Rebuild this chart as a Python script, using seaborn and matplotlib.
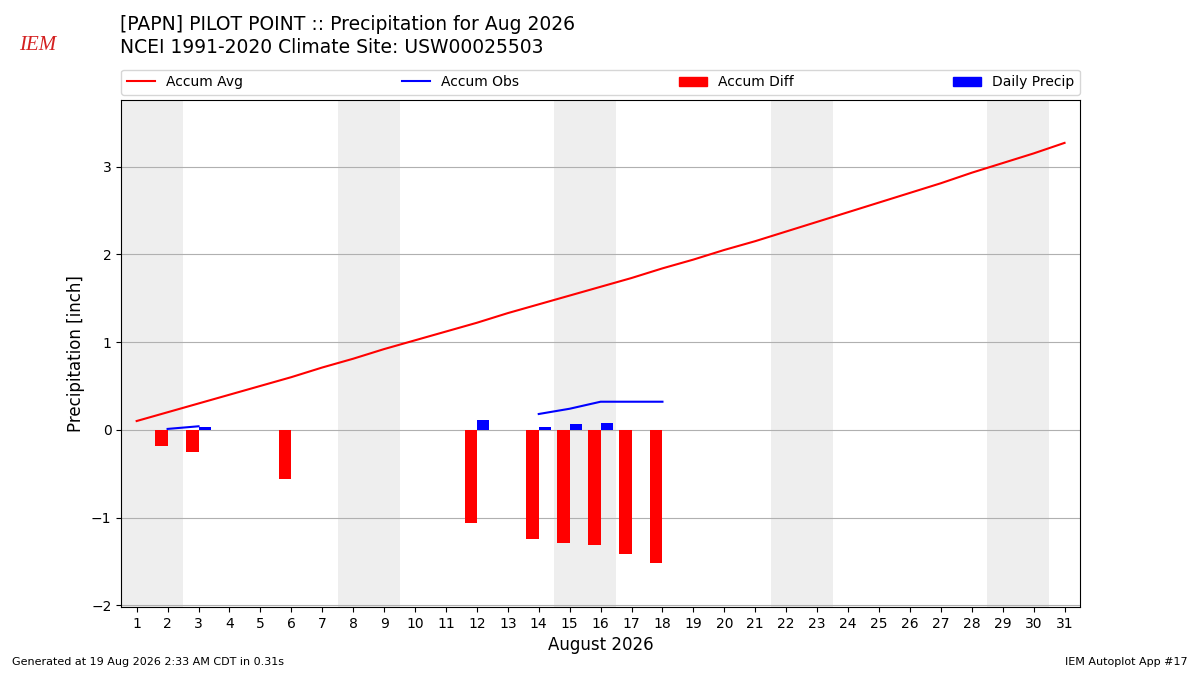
import numpy as np
import pandas as pd
import seaborn as sns
import matplotlib.pyplot as plt
from matplotlib.patches import Patch
from matplotlib.lines import Line2D

days = list(range(1, 32))

# climatology accumulated average precipitation [inch]
accum_avg = [0.10, 0.20, 0.30, 0.40, 0.50, 0.60, 0.71, 0.81, 0.92, 1.02,
             1.12, 1.22, 1.33, 1.43, 1.53, 1.63, 1.73, 1.84, 1.94, 2.05,
             2.15, 2.26, 2.37, 2.48, 2.59, 2.70, 2.81, 2.93, 3.04, 3.15, 3.27]

# observed accumulation (gaps = missing)
obs_days = [2, 3, 14, 15, 16, 17, 18]
obs_accum = [0.01, 0.04, 0.18, 0.24, 0.32, 0.32, 0.32]
obs_segment = [0, 0, 1, 1, 1, 1, 1]

# accumulated departure
diff_days = [2, 3, 6, 12, 14, 15, 16, 17, 18]
diff_vals = [-0.18, -0.25, -0.56, -1.06, -1.24, -1.29, -1.31, -1.41, -1.52]

# daily precipitation
precip_days = [3, 12, 14, 15, 16]
precip_vals = [0.03, 0.11, 0.03, 0.07, 0.08]

weekends = [(1, 2), (8, 9), (15, 16), (22, 23), (29, 30)]

avg_df = pd.DataFrame({'day': days, 'accum': accum_avg})
obs_df = pd.DataFrame({'day': obs_days, 'accum': obs_accum, 'segment': obs_segment})

fig = plt.figure(figsize=(12, 6.75), dpi=100)
ax = fig.add_axes([0.101, 0.1007, 0.799, 0.7513])

for start, end in weekends:
    ax.axvspan(start - 0.5, end + 0.5, color='#eeeeee', zorder=0, lw=0)

ax.bar(np.array(diff_days) - 0.2, diff_vals, width=0.4, color='r', zorder=2)
ax.bar(np.array(precip_days) + 0.2, precip_vals, width=0.4, color='b', zorder=2)

sns.lineplot(data=avg_df, x='day', y='accum', color='r', lw=1.5, ax=ax, zorder=3)
sns.lineplot(data=obs_df, x='day', y='accum', units='segment', estimator=None,
             color='b', lw=1.5, ax=ax, zorder=3)

ax.set_axisbelow(True)
ax.grid(axis='y', color='#b0b0b0', lw=0.8)
ax.grid(axis='x', visible=False)
ax.set_xlim(0.5, 31.5)
ax.set_ylim(-2.02, 3.76)
ax.set_xticks(days)
ax.set_yticks(range(-2, 4))
ax.set_xlabel('August 2026', fontsize=12)
ax.set_ylabel('Precipitation [inch]', fontsize=12)

handles = [Line2D([], [], color='r', lw=1.5), Line2D([], [], color='b', lw=1.5),
           Patch(color='r'), Patch(color='b')]
labels = ['Accum Avg', 'Accum Obs', 'Accum Diff', 'Daily Precip']
ax.legend(handles, labels, ncol=4, mode='expand', loc='lower left',
          bbox_to_anchor=(0, 1.01, 1, 0.05), borderaxespad=0, fontsize=10)

fig.text(0.1, 0.963, '[PAPN] PILOT POINT :: Precipitation for Aug 2026',
         fontsize=13.5, va='center')
fig.text(0.1, 0.929, 'NCEI 1991-2020 Climate Site: USW00025503',
         fontsize=13.5, va='center')
fig.text(0.031, 0.933, 'IEM', color='#d42020', fontsize=15, style='italic',
         family='Liberation Serif', ha='center', va='center')

fig.text(0.01, 0.015, 'Generated at 19 Aug 2026 2:33 AM CDT in 0.31s', fontsize=8)
fig.text(0.99, 0.015, 'IEM Autoplot App #17', fontsize=8, ha='right')

fig.savefig('out.png', dpi=100)
